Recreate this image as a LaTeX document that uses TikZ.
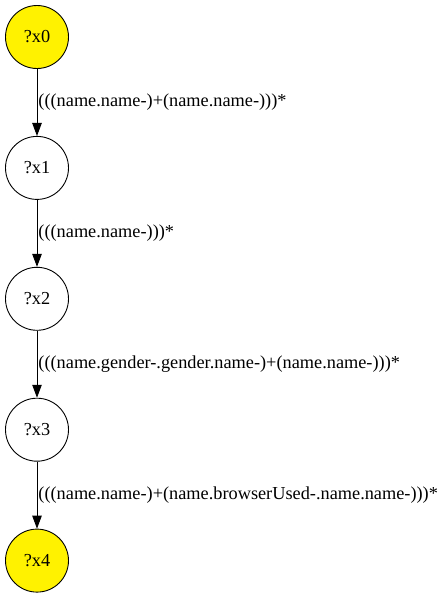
\documentclass[tikz,border=0pt]{standalone}
\usepackage{fontspec}
\setmainfont{Liberation Serif}
\usetikzlibrary{positioning,arrows.meta}
\tikzset{
	varnode/.style = {circle, draw=black, line width=0.9pt, minimum size=63pt, inner sep=0pt, font=\fontsize{18.3}{21}\selectfont},
	endnode/.style = {varnode, fill=yellow},
	pathedge/.style = {draw=black, line width=0.9pt, -{Triangle[length=13pt,width=9.5pt]}},
	pathlabel/.style = {anchor=west, inner sep=1pt, font=\fontsize{18.3}{21}\selectfont}
}
\begin{document}
\begin{tikzpicture}[x=1pt, y=-1pt, node distance=67pt]
	\useasboundingbox (0,0) rectangle (443,595);
	\node [endnode] (x0) at (37,37) {?x0};
	\node [varnode, below=of x0] (x1) {?x1};
	\node [varnode, below=of x1] (x2) {?x2};
	\node [varnode, below=of x2] (x3) {?x3};
	\node [endnode, below=of x3] (x4) {?x4};
	% edges with their path expressions
	\draw [pathedge] (x0) -- node [pathlabel] {(((name.name-)+(name.name-)))*} (x1);
	\draw [pathedge] (x1) -- node [pathlabel] {(((name.name-)))*} (x2);
	\draw [pathedge] (x2) -- node [pathlabel] {(((name.gender-.gender.name-)+(name.name-)))*} (x3);
	\draw [pathedge] (x3) -- node [pathlabel] {(((name.name-)+(name.browserUsed-.name.name-)))*} (x4);
\end{tikzpicture}
\end{document}
